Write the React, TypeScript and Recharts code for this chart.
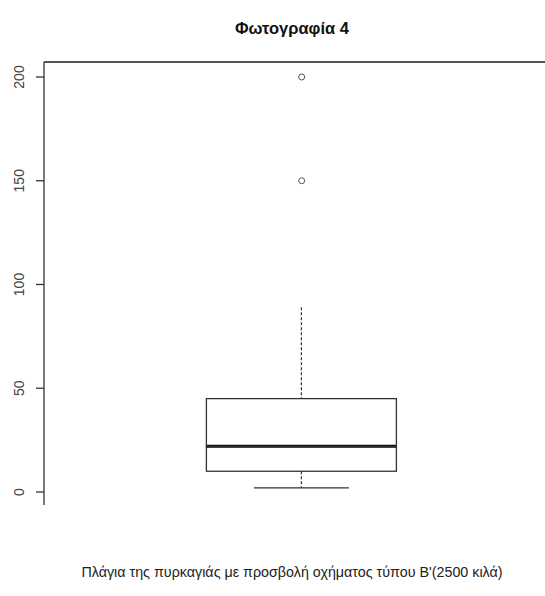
import { Bar, ComposedChart, ReferenceLine, Scatter, XAxis, YAxis } from 'recharts';

// values
const categories = ['Πλάγια'];
const lowerWhisker = [2];
const q1 = [10];
const median = [22];
const q3 = [45];
const upperWhisker = [89];
const outliers = [150, 200];
const yTicks = [0, 50, 100, 150, 200];

const yDomain: [number, number] = [-6.27, 207.23];
const INK = '#333';

const boxData = categories.map((name, i) => ({
  name,
  gap: lowerWhisker[i],
  whiskLow: q1[i] - lowerWhisker[i],
  boxLow: median[i] - q1[i],
  boxHigh: q3[i] - median[i],
  whiskHigh: upperWhisker[i] - q3[i],
}));

const outlierData = outliers.map((value) => ({ name: categories[0], value }));

const Empty = () => <g />;

const LowWhisker = (p: any) => {
  const cx = p.x + p.width / 2;
  const bottom = p.y + p.height;
  const half = p.width / 4;
  return (
    <g>
      <line x1={cx} x2={cx} y1={p.y} y2={bottom} stroke={INK} strokeWidth={1.2} strokeDasharray="3 2" />
      <line x1={cx - half} x2={cx + half} y1={bottom} y2={bottom} stroke={INK} strokeWidth={1.3} />
    </g>
  );
};

const HighWhisker = (p: any) => {
  const cx = p.x + p.width / 2;
  return <line x1={cx} x2={cx} y1={p.y} y2={p.y + p.height} stroke={INK} strokeWidth={1.2} strokeDasharray="3 2" />;
};

const BoxLow = (p: any) => (
  <g>
    <rect x={p.x} y={p.y} width={p.width} height={p.height} fill="#fff" stroke={INK} strokeWidth={1.3} />
    <line x1={p.x} x2={p.x + p.width} y1={p.y} y2={p.y} stroke="#000" strokeWidth={3} />
  </g>
);

const BoxHigh = (p: any) => (
  <rect x={p.x} y={p.y} width={p.width} height={p.height} fill="none" stroke={INK} strokeWidth={1.3} />
);

const OpenDot = (p: any) => <circle cx={p.cx} cy={p.cy} r={3} fill="none" stroke="#555" strokeWidth={1} />;

const RotTick = ({ y, payload }: any) => (
  <g transform={`translate(24,${y})`}>
    <text transform="rotate(-90)" textAnchor="middle" fontSize={14} fill="#444" fontFamily="Liberation Sans, Arial, sans-serif">
      {payload.value}
    </text>
  </g>
);

export default function App() {
  return (
    <div style={{ position: 'absolute', left: 0, top: 0, width: 545, height: 596, background: '#fff' }}>
      <div
        style={{
          position: 'absolute',
          top: 19,
          left: 0,
          width: 584,
          textAlign: 'center',
          fontFamily: 'Liberation Sans, Arial, sans-serif',
          fontWeight: 'bold',
          fontSize: 16.5,
          color: '#111',
        }}
      >
        Φωτογραφία 4
      </div>
      <ComposedChart width={545} height={596} data={boxData} margin={{ top: 62, right: 0, bottom: 91, left: 0 }}>
        <XAxis dataKey="name" hide allowDuplicatedCategory={false} padding={{ left: 14.4, right: 0 }} />
        <YAxis
          width={44}
          domain={yDomain}
          allowDataOverflow
          ticks={yTicks}
          tickSize={8}
          axisLine={{ stroke: INK, strokeWidth: 1.3 }}
          tickLine={{ stroke: INK, strokeWidth: 1.3 }}
          tick={<RotTick />}
        />
        <ReferenceLine y={yDomain[1]} stroke="#555" strokeWidth={2} ifOverflow="visible" />
        <Bar dataKey="gap" stackId="b" barSize={190} shape={<Empty />} isAnimationActive={false} />
        <Bar dataKey="whiskLow" stackId="b" barSize={190} shape={<LowWhisker />} isAnimationActive={false} />
        <Bar dataKey="boxLow" stackId="b" barSize={190} shape={<BoxLow />} isAnimationActive={false} />
        <Bar dataKey="boxHigh" stackId="b" barSize={190} shape={<BoxHigh />} isAnimationActive={false} />
        <Bar dataKey="whiskHigh" stackId="b" barSize={190} shape={<HighWhisker />} isAnimationActive={false} />
        <Scatter data={outlierData} dataKey="value" shape={<OpenDot />} isAnimationActive={false} />
      </ComposedChart>
      <div
        style={{
          position: 'absolute',
          top: 564,
          left: 0,
          width: 584,
          textAlign: 'center',
          fontFamily: 'Liberation Sans, Arial, sans-serif',
          fontSize: 14.3,
          color: '#222',
          whiteSpace: 'nowrap',
        }}
      >
        Πλάγια της πυρκαγιάς με προσβολή οχήματος τύπου Β'(2500 κιλά)
      </div>
    </div>
  );
}
